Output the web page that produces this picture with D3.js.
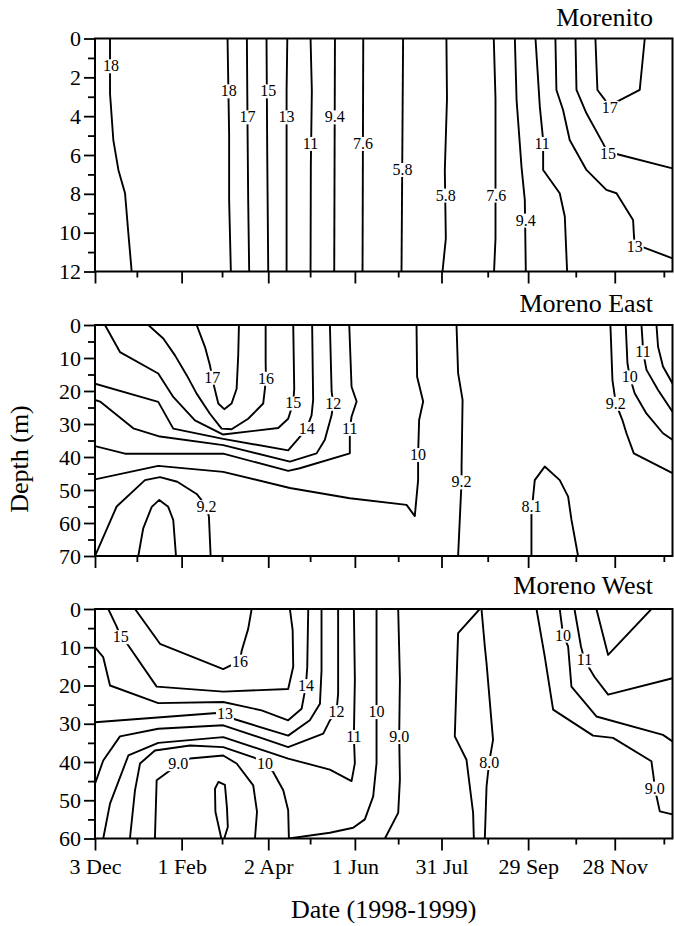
<!DOCTYPE html>
<html>
<head>
<meta charset="utf-8">
<script src="https://cdn.jsdelivr.net/npm/d3@7"></script>
<style>
  body { margin: 0; background: #fff; }
  svg { display: block; }
  text { font-family: "Liberation Serif", "Times New Roman", serif; fill: #000; }
</style>
</head>
<body>
<svg id="chart" width="674" height="926"></svg>
<script>
// dates on the time axis
const startDate = '1998-12-03';
const endDate = '2000-01-07';
const majorDates = ['1998-12-03', '1999-02-01', '1999-04-02', '1999-06-01', '1999-07-31', '1999-09-29', '1999-11-28'];
const minorDates = ['1999-01-01', '1999-03-01', '1999-05-01', '1999-07-01', '1999-09-01', '1999-11-01', '2000-01-01'];

const titles = ['Morenito', 'Moreno East', 'Moreno West'];
const depthMax = [12, 70, 60];
const depthMajor = [[0, 2, 4, 6, 8, 10, 12], [0, 10, 20, 30, 40, 50, 60, 70], [0, 10, 20, 30, 40, 50, 60]];
const depthMinor = [[1, 3, 5, 7, 9, 11], [5, 15, 25, 35, 45, 55, 65], [5, 15, 25, 35, 45, 55]];

// isolines: [days since 3 Dec 1998, depth m]
const morenitoLines = [
  [[10.4, 0], [10.4, 2.83], [12.7, 5.23], [16.2, 6.77], [20.8, 7.97], [23.1, 10.03], [25.4, 12]],
  [[91.8, 0], [92.9, 4.9], [92.9, 8.3], [94.1, 12]],
  [[105.2, 0], [105.7, 5], [106.1, 8.3], [106.8, 12]],
  [[118.8, 0], [119.3, 6], [120, 12]],
  [[133.2, 0], [132.7, 2.7], [132.7, 12]],
  [[149.3, 0], [150.2, 2.7], [149.5, 6.5], [149.3, 12]],
  [[166.2, 0], [165.7, 12]],
  [[185.8, 0], [185.3, 12]],
  [[213.4, 0], [212.3, 12]],
  [[243.4, 0], [243.8, 3.1], [242.3, 6.8], [243, 10.3], [240.7, 12]],
  [[276.2, 0], [277.4, 3.1], [277.4, 10.3], [276.4, 12]],
  [[290.8, 0], [292, 3.17], [295.4, 6.6], [297.7, 8.31], [298.4, 12]],
  [[305.1, 0], [308.1, 3.51], [310.4, 5.23], [310.4, 6.77], [321.9, 7.97], [325.4, 9.17], [327, 12]],
  [[318.9, 0], [319.6, 2.65], [324.2, 3.68], [328.8, 5.23], [340.4, 6.77], [354.2, 7.8], [361.2, 7.97], [372.7, 9.35], [373.2, 10.03], [373.8, 10.69], [378.5, 10.72], [400, 11.32]],
  [[332.8, 0], [333.5, 2.65], [340.4, 3.85], [351.9, 5.4], [355.4, 5.91], [361.2, 5.95], [400, 6.69]],
  [[346.6, 0], [348, 2.65], [352.4, 3.08], [356.5, 3.54], [361.6, 3.25], [377.3, 2.65], [380.8, 0]]
];
const morenitoLabels = [
  [11.1, 1.4, '18'], [92.6, 2.69, '18'], [105.7, 4.03, '17'], [120, 2.69, '15'], [132.7, 4.03, '13'],
  [149.3, 5.4, '11'], [166, 4.03, '9.4'], [185.7, 5.4, '7.6'], [213, 6.74, '5.8'], [243, 8.06, '5.8'],
  [278, 8.06, '7.6'], [298.4, 9.35, '9.4'], [309.7, 5.4, '11'], [373.8, 10.69, '13'], [355.4, 5.91, '15'],
  [356.5, 3.54, '17']
];

const eastLines = [
  [[70.4, 0], [76.2, 6.7], [79.6, 12.2], [81.2, 15.8], [82.6, 18.8], [85.4, 23.8], [89.5, 25.5], [94.6, 23.8], [98.1, 19.3], [99.2, 9.2], [99.7, 0]],
  [[36.9, 0], [47.3, 4.1], [55.4, 9.2], [63.5, 15.2], [70.4, 20.8], [79.6, 26.9], [87.7, 31.4], [94.6, 31.6], [106.1, 28.4], [116.5, 23.8], [117.7, 19.3], [118.4, 16.1], [118.2, 11.2], [118.2, 0]],
  [[6.9, 0], [17.3, 8.2], [43.8, 14.7], [54.2, 21.8], [69.2, 28.9], [88.8, 33.2], [126.9, 31.2], [133.8, 28.4], [137.3, 23.6], [138, 19.3], [137.3, 0]],
  [[0, 17.8], [43.8, 23.3], [54.2, 31.4], [88.8, 34.5], [133.8, 38], [140.7, 34.5], [146.6, 31.3], [150, 27.4], [151.1, 22.7], [150.4, 0]],
  [[0, 22.7], [3.5, 23.2], [26.5, 31.3], [45, 33.8], [88.8, 36.4], [135, 41.4], [153.5, 38.9], [159.2, 34.8], [163.9, 27.3], [165, 23.7], [163.9, 20.2], [162.7, 0]],
  [[0, 36.7], [20.8, 39], [88.8, 39], [133.8, 44.2], [141.9, 43.4], [176.5, 38.9], [176.5, 31.3], [177.7, 27.8], [181.2, 23.2], [177.7, 18.7], [176.1, 0]],
  [[0, 46.8], [43.8, 42.7], [88.8, 44.5], [135, 49.4], [176.5, 52.5], [215.8, 54.5], [221.5, 57.9], [223.8, 47], [223.8, 39.2], [224.5, 28.8], [227.3, 23.2], [223.1, 15.7], [222.7, 0]],
  [[0, 70], [15, 55], [34.6, 47], [45, 46.1], [57, 47.5], [70.4, 51.2], [77.3, 55], [78.9, 58.1], [80.1, 70]],
  [[30, 70], [33.4, 61.6], [39.3, 55.1], [44.5, 53], [50.7, 55.1], [54.2, 59.1], [56.1, 70]],
  [[250.4, 0], [251.5, 14.6], [254.6, 22.7], [253.9, 42.9], [253.9, 47.5], [253.4, 52], [251.5, 70]],
  [[302.3, 70], [302.3, 57.1], [304.6, 47], [311.5, 42.9], [321.9, 47], [327.7, 52], [330, 59], [334.6, 70]],
  [[357, 0], [358.4, 16.7], [360.7, 23.7], [365.3, 28.8], [368.1, 32.8], [373.2, 38.9], [400, 44.9]],
  [[367.6, 0], [368.8, 11.6], [370.4, 15.7], [373.8, 20.7], [381.9, 26.8], [393.4, 32.8], [400, 34.8]],
  [[378.5, 0], [379.2, 4.5], [379.6, 8.1], [382, 13.6], [390, 19.7], [400, 26.3]],
  [[388.9, 0], [390, 6.6], [393.4, 12.6], [400, 17.7]]
];
const eastLabels = [
  [81.2, 15.8, '17'], [118.4, 16.1, '16'], [137.3, 23.6, '15'], [146.6, 31.3, '14'], [165, 23.7, '12'],
  [176.5, 31.3, '11'], [223.8, 39.2, '10'], [77.3, 55, '9.2'], [253.9, 47.5, '9.2'], [302.3, 55, '8.1'],
  [360.7, 23.7, '9.2'], [370.4, 15.7, '10'], [379.6, 8.1, '11']
];

const westLines = [
  [[27.7, 0], [45, 9.1], [88.8, 15.7], [94.8, 14.6], [100.4, 13.6], [101.6, 10.9], [106.1, 5.2], [108.5, 0]],
  [[9.2, 0], [15, 4.6], [17.8, 7.2], [21.9, 8.9], [42.7, 20.3], [88.8, 21.6], [133.8, 20.9], [137.3, 15.1], [136.9, 5.5], [135, 0]],
  [[0, 10], [5.7, 12.6], [10.4, 20], [43.8, 24.6], [88.8, 24.3], [115.4, 26.5], [133.8, 29.1], [143.1, 26.1], [146.1, 20], [147, 15.2], [147.7, 0]],
  [[0, 29.6], [84.3, 27.2], [90, 27.4], [95.7, 28.7], [133.8, 33.1], [148.8, 29.1], [155.8, 24.8], [156.9, 16.1], [156.9, 0]],
  [[0, 45.7], [5.7, 39.6], [17.3, 33.3], [43.8, 31.3], [88.8, 30.4], [133.8, 36.1], [158.1, 32.6], [162.7, 29.1], [167.3, 26.8], [168.4, 22.2], [168.4, 0]],
  [[5.7, 60], [10.4, 50.9], [23.1, 38.3], [43.8, 35], [88.8, 33.5], [133.8, 39.1], [162.7, 42], [177.7, 45], [180, 40.3], [179.3, 33.3], [180, 18.5], [179.3, 0]],
  [[24.2, 60], [27.7, 47.4], [31.2, 40.4], [41.5, 37], [65.8, 35.7], [88.8, 36.1], [111.9, 39.1], [117.7, 40.4], [123.4, 42.6], [130.4, 47.4], [133.8, 52.6], [134.3, 60], [162.7, 58.5], [178.8, 57.2], [186.9, 55], [192.7, 49], [195, 40.3], [195, 26.8], [195, 0]],
  [[41.5, 60], [42.7, 44.8], [51.9, 42.2], [57.7, 40.4], [65.8, 39.1], [88.8, 38.3], [98.1, 40.4], [109.6, 46.1], [112.2, 53], [110.8, 60]],
  [[87.5, 60], [83.4, 53], [83.1, 47], [85.5, 45.2], [90, 46], [91.4, 52], [92, 57], [89.5, 60]],
  [[210, 0], [211.2, 18.5], [210.7, 33.3], [211.2, 44.6], [210, 53.3], [200.8, 60]],
  [[262.4, 60], [261.9, 53.3], [257.3, 39.4], [249.2, 33.3], [251.5, 6.3], [266.5, 0], [267.7, 0], [270, 9.8], [271.2, 14.2], [275.7, 34.2], [273, 40.1], [271.2, 46.4], [270, 60]],
  [[305.8, 0], [311.5, 12.4], [317.3, 26.3], [345, 33.1], [358.8, 33.7], [385.4, 39.8], [387, 44.2], [387.7, 46.8], [391.2, 52.9], [400, 53.7]],
  [[321.9, 0], [324.2, 6.8], [327.7, 9.8], [330, 20.3], [347.3, 28.1], [393.4, 32.9], [400, 34.6]],
  [[332.1, 0], [336.6, 9.8], [339, 13.3], [345.9, 17.7], [355.4, 22.4], [400, 18.1]],
  [[347.3, 0], [355.4, 12], [385.4, 0]]
];
const westLabels = [
  [17.8, 7.2, '15'], [100.4, 13.6, '16'], [146.1, 20, '14'], [90, 27.4, '13'], [167.3, 26.8, '12'],
  [179.3, 33.3, '11'], [195, 26.8, '10'], [57.7, 40.4, '9.0'], [117.7, 40.4, '10'], [210.7, 33.3, '9.0'],
  [273, 40.1, '8.0'], [324.2, 6.8, '10'], [339, 13.3, '11'], [387.7, 46.8, '9.0']
];

const allLines = [morenitoLines, eastLines, westLines];
const allLabels = [morenitoLabels, eastLabels, westLabels];

// layout
const left = 95, right = 672.5;
const boxes = [
  { top: 38.5, bottom: 271.5, titleY: 26 },
  { top: 325, bottom: 556, titleY: 312 },
  { top: 609, bottom: 838.5, titleY: 594 }
];

const parse = d3.timeParse('%Y-%m-%d');
const t0 = parse(startDate);
const dayDate = (d) => new Date(t0.getTime() + d * 864e5);

const x = d3.scaleTime()
  .domain([t0, parse(endDate)])
  .range([left, right]);

const svg = d3.select('#chart');

boxes.forEach((b, i) => {
  const y = d3.scaleLinear().domain([0, depthMax[i]]).range([b.top, b.bottom]);
  const g = svg.append('g');

  g.append('clipPath').attr('id', `clip${i}`)
    .append('rect')
    .attr('x', left).attr('y', b.top)
    .attr('width', right - left).attr('height', b.bottom - b.top);

  const line = d3.line()
    .x((p) => x(dayDate(p[0])))
    .y((p) => y(p[1]));

  g.append('g')
    .attr('clip-path', `url(#clip${i})`)
    .selectAll('path')
    .data(allLines[i])
    .enter()
    .append('path')
    .attr('d', line)
    .attr('fill', 'none')
    .attr('stroke', '#000')
    .attr('stroke-width', 1.9)
    .attr('stroke-linejoin', 'round');

  // contour labels sit on a white patch that breaks the line
  const lab = g.append('g')
    .selectAll('g')
    .data(allLabels[i])
    .enter()
    .append('g')
    .attr('transform', (d) => `translate(${x(dayDate(d[0]))},${y(d[1])})`);
  lab.append('text')
    .attr('dy', '0.35em')
    .attr('text-anchor', 'middle')
    .attr('font-size', 16)
    .text((d) => d[2]);
  lab.each(function () {
    const bb = d3.select(this).select('text').node().getBBox();
    d3.select(this).insert('rect', 'text')
      .attr('x', bb.x - 1)
      .attr('y', bb.y + 2)
      .attr('width', bb.width + 2)
      .attr('height', bb.height - 3)
      .attr('fill', '#fff');
  });

  // frame
  g.append('rect')
    .attr('x', left).attr('y', b.top)
    .attr('width', right - left).attr('height', b.bottom - b.top)
    .attr('fill', 'none')
    .attr('stroke', '#000')
    .attr('stroke-width', 2);

  // depth axis
  const yMajor = g.append('g')
    .attr('transform', `translate(${left},0)`)
    .call(d3.axisLeft(y).tickValues(depthMajor[i]).tickSize(11).tickPadding(3).tickFormat(d3.format('d')));
  const yMinor = g.append('g')
    .attr('transform', `translate(${left},0)`)
    .call(d3.axisLeft(y).tickValues(depthMinor[i]).tickSize(7).tickFormat(''));

  // date axis
  const xMajor = g.append('g')
    .attr('transform', `translate(0,${b.bottom})`)
    .call(d3.axisBottom(x)
      .tickValues(majorDates.map(parse))
      .tickSize(12)
      .tickPadding(8)
      .tickFormat(i === 2 ? d3.timeFormat('%-d %b') : ''));
  const xMinor = g.append('g')
    .attr('transform', `translate(0,${b.bottom})`)
    .call(d3.axisBottom(x).tickValues(minorDates.map(parse)).tickSize(6).tickFormat(''));

  [yMajor, yMinor, xMajor, xMinor].forEach((a) => {
    a.select('.domain').remove();
    a.selectAll('line').attr('stroke', '#000').attr('stroke-width', 1.8);
    a.selectAll('text')
      .attr('font-family', '"Liberation Serif", serif')
      .attr('font-size', 22)
      .attr('fill', '#000');
  });

  svg.append('text')
    .attr('x', 653)
    .attr('y', b.titleY)
    .attr('text-anchor', 'end')
    .attr('font-size', 26)
    .text(titles[i]);
});

svg.append('text')
  .attr('transform', 'translate(28,459) rotate(-90)')
  .attr('text-anchor', 'middle')
  .attr('font-size', 26)
  .text('Depth (m)');

svg.append('text')
  .attr('x', (left + right) / 2)
  .attr('y', 918)
  .attr('text-anchor', 'middle')
  .attr('font-size', 26)
  .text('Date (1998-1999)');
</script>
</body>
</html>
